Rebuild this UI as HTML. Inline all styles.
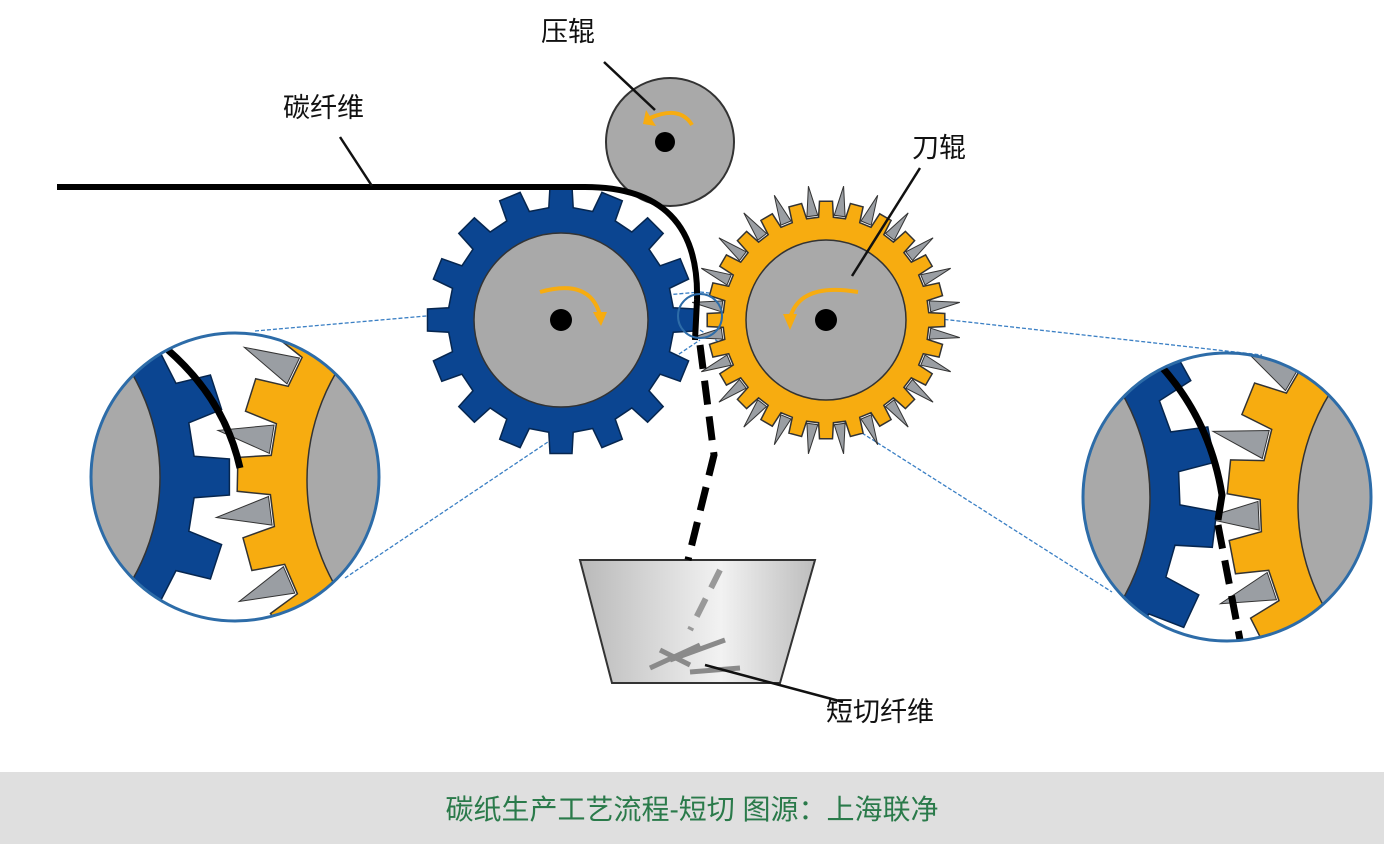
<!DOCTYPE html>
<html><head><meta charset="utf-8"><style>
html,body{margin:0;padding:0;background:#fff;}
#w{position:relative;width:1384px;height:844px;overflow:hidden;background:#fff;}
.t{position:absolute;font-family:"Liberation Sans","Noto Sans CJK SC",sans-serif;color:#111;font-size:27px;white-space:nowrap;}
#cap{position:absolute;left:0;top:772px;width:1384px;height:72px;background:#dfdfdf;}
#cap span{position:absolute;left:0;width:1384px;top:16px;text-align:center;font-family:"Liberation Sans","Noto Sans CJK SC",sans-serif;font-size:28px;color:#2a7a4a;}
</style></head><body><div id="w">
<svg id="s" width="1384" height="844" style="position:absolute;left:0;top:0">
<defs>
<linearGradient id="bk" x1="0" x2="1" y1="0" y2="0"><stop offset="0" stop-color="#b9b9b9"/><stop offset="0.6" stop-color="#f2f2f2"/><stop offset="1" stop-color="#bdbdbd"/></linearGradient>
<clipPath id="cl"><circle cx="235" cy="477" r="144"/></clipPath>
<clipPath id="cr"><circle cx="1227" cy="497" r="144"/></clipPath>
</defs>
<g id="g"></g>
</svg>
<div class="t" style="left:541px;top:10px">压辊</div>
<div class="t" style="left:283px;top:86px">碳纤维</div>
<div class="t" style="left:912px;top:126px">刀辊</div>
<div class="t" style="left:826px;top:690px">短切纤维</div>
<div id="cap"><span>碳纸生产工艺流程-短切 图源：上海联净</span></div>
</div>
<script>
var g=document.getElementById('g'),h='';
function P(cx,cy,a,r){return (cx+r*Math.cos(a)).toFixed(1)+','+(cy+r*Math.sin(a)).toFixed(1);}
function gear(cx,cy,n,rr,rt,off){var d='',s=Math.PI/n;for(var i=0;i<n;i++){var a=off+i*2*s;
var pts=[[a-0.55*s,rr],[a-0.42*s,rt],[a+0.42*s,rt],[a+0.55*s,rr]];
pts.forEach(function(p,j){d+=(i==0&&j==0?'M':'L')+P(cx,cy,p[0],p[1]);});}
return d+'Z';}
function blades(cx,cy,n,r0,r1,off,bw){var s='',k=Math.PI/n;for(var i=0;i<n;i++){var a=off+(2*i+1)*k;
s+='<polygon points="'+P(cx,cy,a-bw*k,r0)+' '+P(cx,cy,a,r1)+' '+P(cx,cy,a+bw*k,r0)+'" fill="#9a9ea3" stroke="#333" stroke-width="1"/>';}return s;}
function blue(cx,cy,n,ri,rr,rt,off){return '<path d="'+gear(cx,cy,n,rr,rt,off)+'" fill="#0b4591" stroke="#06264f" stroke-width="1.5"/><circle cx="'+cx+'" cy="'+cy+'" r="'+ri+'" fill="#a9a9a9" stroke="#333" stroke-width="1.5"/>';}
function orange(cx,cy,n,ri,rr,rt,rb,off,bw){return blades(cx,cy,n,rr+2,rb,off,bw)+'<path d="'+gear(cx,cy,n,rr,rt,off)+'" fill="#f7ac10" stroke="#333" stroke-width="1.5"/><circle cx="'+cx+'" cy="'+cy+'" r="'+ri+'" fill="#a9a9a9" stroke="#333" stroke-width="1.5"/>';}
h+='<g stroke="#3a7fc4" stroke-width="1.3" stroke-dasharray="4 2" fill="none"><line x1="255" y1="331" x2="700" y2="292"/><line x1="345" y1="578" x2="700" y2="340"/><line x1="700" y1="292" x2="1262" y2="355"/><line x1="700" y1="330" x2="1112" y2="592"/></g>';
h+='<circle cx="670" cy="142" r="64" fill="#a9a9a9" stroke="#333" stroke-width="2"/>';
h+=blue(561,320,16,87,113,134,-Math.PI/2);
h+=orange(826,320,24,80,103,119,135,-Math.PI/2,0.4);
h+='<circle cx="561" cy="320" r="11" fill="#000"/><circle cx="665" cy="142" r="10" fill="#000"/><circle cx="826" cy="320" r="11" fill="#000"/>';
h+='<g fill="none" stroke="#f7ac10" stroke-width="4"><path d="M540,292 Q590,278 600,315"/><path d="M858,292 Q800,282 790,318"/><path d="M650,118 Q680,105 692,125"/></g>';
h+='<g fill="#f7ac10"><polygon points="593,312 607,312 601,326"/><polygon points="783,314 797,314 790,330"/><polygon points="646,110 656,126 643,124"/></g>';
h+='<path d="M57,187 L585,187 Q700,187 697,300 L695,340" fill="none" stroke="#000" stroke-width="6"/>';
h+='<circle cx="700" cy="316" r="22" fill="none" stroke="#2d6ca8" stroke-width="2"/>';
h+='<polygon points="580,560 815,560 780,683 612,683" fill="url(#bk)" stroke="#333" stroke-width="2"/>';
h+='<path d="M700,345 L714,455 L688,560" fill="none" stroke="#000" stroke-width="7" stroke-dasharray="24 12"/>';
h+='<path d="M720,570 L690,630" fill="none" stroke="#999" stroke-width="6" stroke-dasharray="20 12"/>';
h+='<g stroke="#8a8a8a" stroke-width="5"><line x1="650" y1="668" x2="700" y2="645"/><line x1="670" y1="660" x2="725" y2="640"/><line x1="690" y1="672" x2="740" y2="668"/><line x1="660" y1="650" x2="690" y2="665"/></g>';
h+='<g stroke="#111" stroke-width="2.5"><line x1="604" y1="62" x2="655" y2="110"/><line x1="340" y1="137" x2="372" y2="186"/><line x1="920" y1="168" x2="852" y2="276"/><line x1="843" y1="702" x2="705" y2="665"/></g>';
h+='<circle cx="235" cy="477" r="144" fill="#fff"/><g clip-path="url(#cl)">'+orange(520,480,22,213,250,283,306,Math.PI+0.02,0.4)+blue(-45,477,20,205,240,275,0.0)+'<path d="M168,350 Q225,400 240,468" fill="none" stroke="#000" stroke-width="7"/></g><circle cx="235" cy="477" r="144" fill="none" stroke="#2d6ca8" stroke-width="3"/>';
h+='<circle cx="1227" cy="497" r="144" fill="#fff"/><g clip-path="url(#cr)">'+orange(1510,505,22,212,250,283,306,Math.PI+0.1,0.4)+blue(945,497,20,205,235,272,0.12)+'<path d="M1160,365 Q1210,420 1222,495 L1218,520" fill="none" stroke="#000" stroke-width="7"/><path d="M1218,525 L1240,640" fill="none" stroke="#000" stroke-width="7" stroke-dasharray="24 12"/></g><circle cx="1227" cy="497" r="144" fill="none" stroke="#2d6ca8" stroke-width="3"/>';
g.innerHTML=h;
</script>
</body></html>
